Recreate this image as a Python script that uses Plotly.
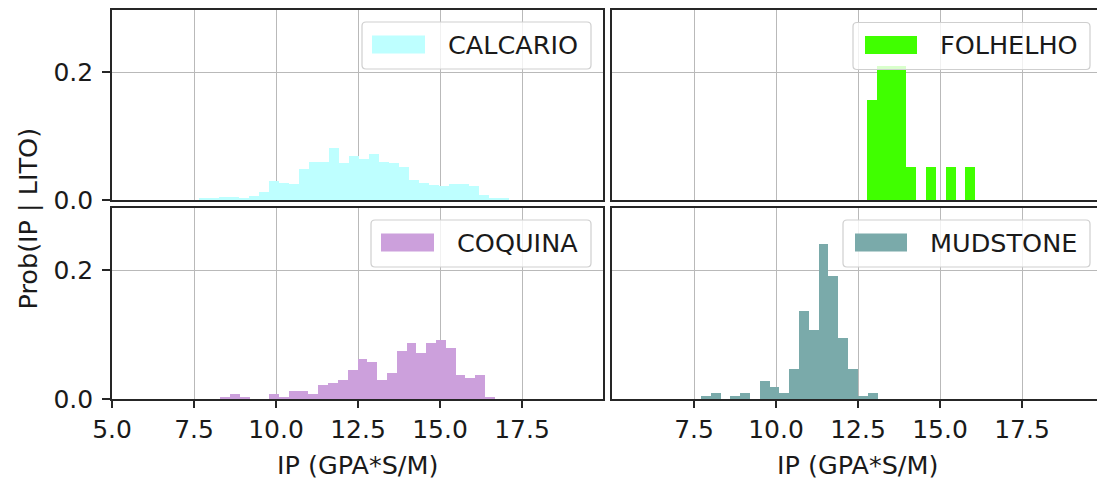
import plotly.graph_objects as go

# ---------------- data ----------------
tick_vals = [5.0, 7.5, 10.0, 12.5, 15.0, 17.5]
tick_text = ["5.0", "7.5", "10.0", "12.5", "15.0", "17.5"]
y_tick_vals = [0.0, 0.2]
y_tick_text = ["0.0", "0.2"]

calcario_start = 7.66
calcario_width = 0.305
calcario_prob = [0.002, 0.002, 0.004, 0.004, 0.002, 0.007, 0.013,
                 0.030, 0.027, 0.0245, 0.048, 0.060, 0.060, 0.082, 0.058,
                 0.069, 0.064, 0.072, 0.060, 0.058, 0.052, 0.031, 0.026,
                 0.023, 0.022, 0.025, 0.025, 0.022, 0.008, 0.003, 0.002]

folhelho_start = 12.774
folhelho_width = 0.300
folhelho_prob = [0.157, 0.209, 0.209, 0.209, 0.052, 0.0, 0.052, 0.0, 0.052, 0.0, 0.052]

coquina_start = 8.299
coquina_width = 0.299
coquina_prob = [0.003, 0.008, 0.003, 0.0, 0.0, 0.008, 0.003, 0.012, 0.012, 0.008,
                0.021, 0.025, 0.029, 0.045, 0.062, 0.058, 0.029, 0.041, 0.075,
                0.087, 0.071, 0.087, 0.091, 0.080, 0.038, 0.033, 0.038, 0.003]

mudstone_start = 7.713
mudstone_width = 0.299
mudstone_prob = [0.004, 0.009, 0.0, 0.004, 0.009, 0.0, 0.028, 0.018, 0.009,
                 0.047, 0.137, 0.108, 0.241, 0.192, 0.095, 0.047, 0.004, 0.009]

lito_names = ["CALCARIO", "FOLHELHO", "COQUINA", "MUDSTONE"]
lito_colors = ["rgb(190,255,255)", "rgb(64,255,0)", "rgb(204,160,220)", "rgb(122,170,170)"]

x_title = "IP (GPA*S/M)"
y_title = "Prob(IP | LITO)"

# ---------------- layout geometry ----------------
W_PX, H_PX = 1097, 481
ML, MR, MT, MB = 112, 0, 10, 82
PW = W_PX - ML - MR
PH = H_PX - MT - MB


def px(xp):
    return (xp - ML) / PW


def py(yp):
    return (H_PX - MB - yp) / PH


FONT = "DejaVu Sans"
TXT = "#1a1a1a"
FS_TICK = 25
FS_TXT = 25.5
AXC = "#262626"
GRID = "#b9b9b9"

fig = go.Figure()

series = [
    (calcario_start, calcario_width, calcario_prob, "x", "y"),
    (folhelho_start, folhelho_width, folhelho_prob, "x2", "y2"),
    (coquina_start, coquina_width, coquina_prob, "x3", "y3"),
    (mudstone_start, mudstone_width, mudstone_prob, "x4", "y4"),
]
for i, (start, width, prob, xa, ya) in enumerate(series):
    centers = [start + width * (k + 0.5) for k in range(len(prob))]
    fig.add_trace(go.Bar(
        x=centers, y=prob, width=width, name=lito_names[i],
        marker=dict(color=lito_colors[i], line=dict(width=0)),
        xaxis=xa, yaxis=ya, showlegend=False, hoverinfo="x+y",
    ))

left_dom = [px(112), px(603)]
right_dom = [px(612), 1.0]
top_dom = [py(200), py(10)]
bot_dom = [0.0, py(208)]

scale = 32.8  # px per unit
left_range = [5.0, 5.0 + (603 - 112) / scale]
right_range = [5.0, 5.0 + (W_PX - 612) / scale]
y_range = [0.0, 0.297]


def xax(dom, rng, anchor, labels, tv):
    d = dict(domain=dom, range=rng, anchor=anchor, showgrid=True, gridcolor=GRID, gridwidth=1.4,
             zeroline=False, showline=True, linecolor=AXC, linewidth=1.7, mirror=True,
             tickvals=tv, ticktext=[tick_text[tick_vals.index(v)] for v in tv],
             tickfont=dict(family=FONT, size=FS_TICK, color=TXT), fixedrange=True)
    if labels:
        d.update(ticks="outside", ticklen=7, tickwidth=1.5, tickcolor=AXC, showticklabels=True)
    else:
        d.update(ticks="", showticklabels=False)
    return d


def yax(dom, anchor, labels, mirror):
    d = dict(domain=dom, range=y_range, anchor=anchor, showgrid=True, gridcolor=GRID, gridwidth=1.4,
             zeroline=False, showline=True, linecolor=AXC, linewidth=1.7, mirror=mirror,
             tickvals=y_tick_vals, ticktext=y_tick_text,
             tickfont=dict(family=FONT, size=FS_TICK, color=TXT), fixedrange=True)
    if labels:
        d.update(ticks="outside", ticklen=8, tickwidth=1.5, tickcolor=AXC, showticklabels=True,
                 ticklabelstandoff=4)
    else:
        d.update(ticks="", showticklabels=False)
    return d


fig.update_layout(
    width=W_PX, height=H_PX,
    margin=dict(l=ML, r=MR, t=MT, b=MB, pad=0),
    paper_bgcolor="white", plot_bgcolor="white",
    bargap=0, showlegend=False,
    font=dict(family=FONT, size=FS_TXT, color=TXT),
    xaxis=xax(left_dom, left_range, "y", False, tick_vals),
    yaxis=yax(top_dom, "x", True, True),
    xaxis2=xax(right_dom, right_range, "y2", False, tick_vals),
    yaxis2=yax(top_dom, "x2", False, False),
    xaxis3=xax(left_dom, left_range, "y3", True, tick_vals),
    yaxis3=yax(bot_dom, "x3", True, True),
    xaxis4=xax(right_dom, right_range, "y4", True, tick_vals[1:]),
    yaxis4=yax(bot_dom, "x4", False, False),
)


def rounded_box(x0p, y0p, x1p, y1p, r=4):
    # pixel coords -> paper path with rounded corners
    X0, X1 = px(x0p), px(x1p)
    Y0, Y1 = py(y1p), py(y0p)  # Y0 bottom, Y1 top
    rx, ry = r / PW, r / PH
    return (f"M {X0+rx},{Y0} L {X1-rx},{Y0} Q {X1},{Y0} {X1},{Y0+ry} "
            f"L {X1},{Y1-ry} Q {X1},{Y1} {X1-rx},{Y1} L {X0+rx},{Y1} "
            f"Q {X0},{Y1} {X0},{Y1-ry} L {X0},{Y0+ry} Q {X0},{Y0} {X0+rx},{Y0} Z")


# legend boxes: (box x0, x1, y0, y1, patch x0, x1, y0, y1, text x, text y)
legend_geom = [
    (362, 591, 22, 69, 372, 425, 35.5, 53.5, 446, 44.5),
    (853, 1090, 22.5, 69.5, 865, 917, 36, 54, 938, 45),
    (371, 591, 220, 267, 381, 434, 233.5, 251.5, 455, 242.5),
    (843, 1090, 220, 267, 855, 907, 233.5, 251.5, 928, 242.5),
]
shapes = []
annotations = []
for i, g in enumerate(legend_geom):
    bx0, bx1, by0, by1, qx0, qx1, qy0, qy1, tx, ty = g
    shapes.append(dict(type="path", xref="paper", yref="paper", path=rounded_box(bx0, by0, bx1, by1),
                       fillcolor="rgba(255,255,255,0.8)", line=dict(color="#cfcfcf", width=1.2),
                       layer="above"))
    shapes.append(dict(type="rect", xref="paper", yref="paper",
                       x0=px(qx0), x1=px(qx1), y0=py(qy1), y1=py(qy0),
                       fillcolor=lito_colors[i], line=dict(width=0), layer="above"))
    annotations.append(dict(text=lito_names[i], xref="paper", yref="paper", x=px(tx), y=py(ty),
                            xanchor="left", yanchor="middle", showarrow=False,
                            font=dict(family=FONT, size=FS_TXT, color=TXT)))

annotations.append(dict(text=x_title, xref="paper", yref="paper", x=px(357.5), y=py(465),
                        xanchor="center", yanchor="middle", showarrow=False,
                        font=dict(family=FONT, size=FS_TXT, color=TXT)))
annotations.append(dict(text=x_title, xref="paper", yref="paper", x=px(857.5), y=py(465),
                        xanchor="center", yanchor="middle", showarrow=False,
                        font=dict(family=FONT, size=FS_TXT, color=TXT)))
annotations.append(dict(text=y_title, xref="paper", yref="paper", x=px(27), y=py(218.5),
                        xanchor="center", yanchor="middle", textangle=-90, showarrow=False,
                        font=dict(family=FONT, size=FS_TXT, color=TXT)))

fig.update_layout(shapes=shapes, annotations=annotations)

fig.write_html("out.html", config={"displayModeBar": False},
               post_script="document.body.style.margin='0px';document.body.style.overflow='hidden';")
